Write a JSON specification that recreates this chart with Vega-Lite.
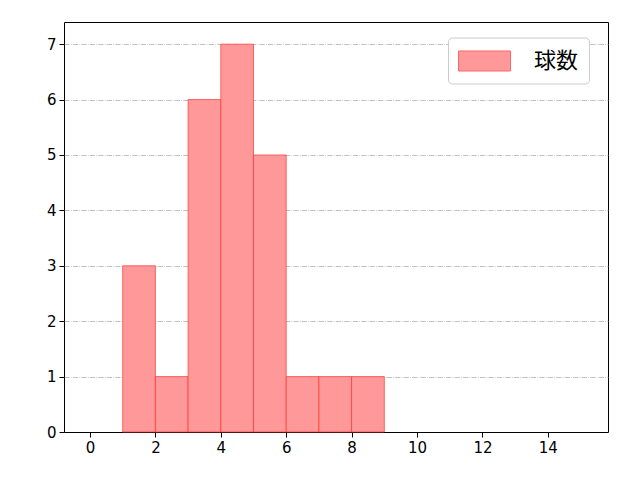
{
  "$schema": "https://vega.github.io/schema/vega-lite/v6.json",
  "width": 544,
  "height": 410,
  "autosize": {"type": "none"},
  "padding": {"left": 64, "top": 22, "right": 32, "bottom": 48},
  "background": "white",
  "config": {
    "view": {"stroke": "black", "strokeWidth": 1},
    "font": "DejaVu Sans",
    "axis": {
      "labelFont": "DejaVu Sans",
      "labelFontSize": 15,
      "labelColor": "black",
      "tickColor": "black",
      "domain": false,
      "tickSize": 5,
      "labelPadding": 3
    }
  },
  "data": {"values": [
    {"start": 1, "end": 2, "count": 3, "series": "球数"},
    {"start": 2, "end": 3, "count": 1, "series": "球数"},
    {"start": 3, "end": 4, "count": 6, "series": "球数"},
    {"start": 4, "end": 5, "count": 7, "series": "球数"},
    {"start": 5, "end": 6, "count": 5, "series": "球数"},
    {"start": 6, "end": 7, "count": 1, "series": "球数"},
    {"start": 7, "end": 8, "count": 1, "series": "球数"},
    {"start": 8, "end": 9, "count": 1, "series": "球数"}
  ]},
  "mark": {"type": "bar", "stroke": "#ff3333", "strokeWidth": 1, "strokeOpacity": 0.7, "opacity": 1},
  "encoding": {
    "x": {
      "field": "start", "type": "quantitative", "title": null,
      "scale": {"domain": [-0.795, 15.84], "nice": false, "zero": false},
      "axis": {"values": [0, 2, 4, 6, 8, 10, 12, 14], "grid": false}
    },
    "x2": {"field": "end"},
    "y": {
      "field": "count", "type": "quantitative", "title": null,
      "scale": {"domain": [0, 7.4], "nice": false},
      "axis": {
        "values": [0, 1, 2, 3, 4, 5, 6, 7],
        "grid": true,
        "gridColor": "#b0b0b0",
        "gridWidth": 0.8,
        "gridDash": [5.12, 1.28, 0.8, 1.28],
        "gridOpacity": {"condition": {"test": "datum.value === 0", "value": 0}, "value": 1}
      }
    },
    "y2": {"datum": 0},
    "color": {
      "field": "series", "type": "nominal",
      "scale": {"domain": ["球数"], "range": ["#ff9999"]},
      "legend": {
        "title": null,
        "orient": "none",
        "legendX": 384,
        "legendY": 15.5,
        "symbolType": "M-1,-0.77H3V0.77H-1Z",
        "symbolSize": 676,
        "symbolStrokeColor": "#ff6666",
        "symbolStrokeWidth": 1,
        "symbolOpacity": 1,
        "labelFont": "Noto Sans CJK JP",
        "labelFontSize": 22,
        "labelColor": "black",
        "labelOffset": 49,
        "fillColor": "white",
        "strokeColor": "#cccccc",
        "cornerRadius": 4,
        "padding": 10
      }
    }
  }
}
